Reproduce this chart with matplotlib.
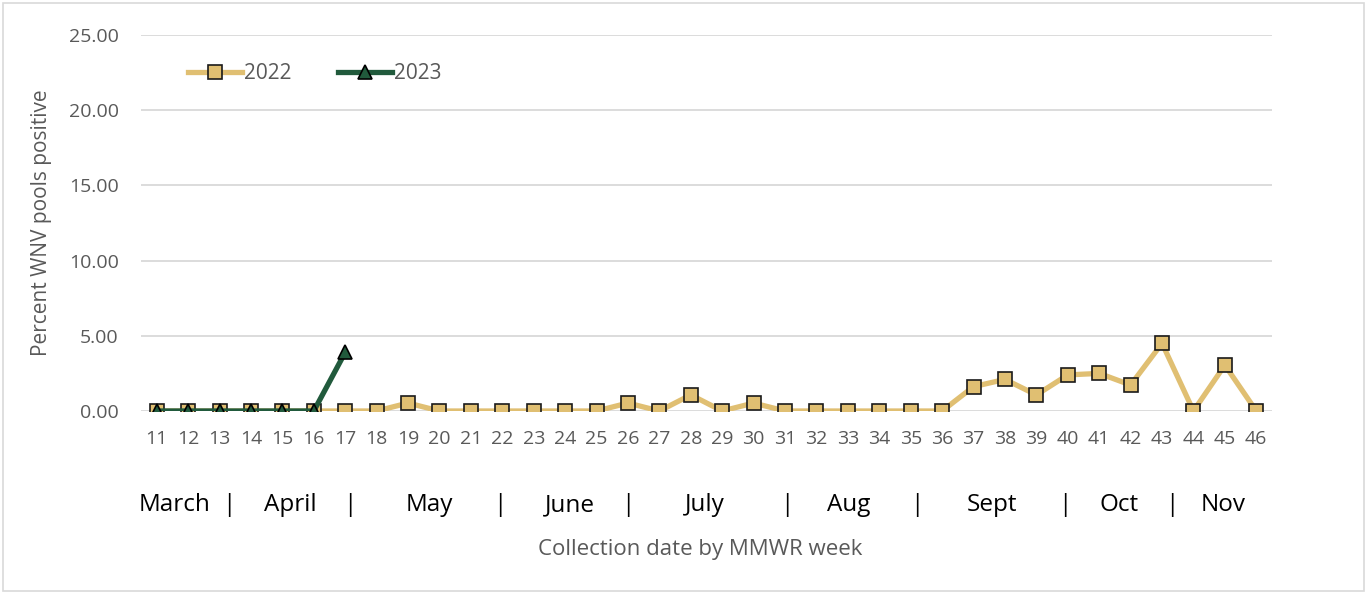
import numpy as np
import matplotlib.pyplot as plt
from matplotlib.patches import Rectangle

weeks = list(range(11, 47))
pct_2022 = [0, 0, 0, 0, 0, 0, 0, 0, 0.53, 0, 0, 0, 0, 0, 0, 0.53, 0, 1.07, 0, 0.53,
            0, 0, 0, 0, 0, 0, 1.62, 2.1, 1.07, 2.4, 2.5, 1.73, 4.5, 0, 3.05, 0]
weeks_2023 = list(range(11, 18))
pct_2023 = [0, 0, 0, 0, 0, 0, 3.9]

months = ["March", "|", "April", "|", "May", "|", "June", "|", "July", "|",
          "Aug", "|", "Sept", "|", "Oct", "|", "Nov"]
month_px = [175, 229, 290, 350, 429, 500, 570, 628, 705, 787,
            849, 917, 992, 1065, 1119, 1172, 1223]

W, H = 1367, 594
fig = plt.figure(figsize=(W / 100, H / 100), dpi=100)
plt.rcParams['font.family'] = ['Open Sans', 'DejaVu Sans']
ax = fig.add_axes([141 / W, 1 - 411 / H, (1272 - 141) / W, (411 - 35) / H])

gray = '#595959'
idx = np.arange(len(weeks))
ax.plot(idx, pct_2022, color='#e0bf72', lw=3.8, marker='s', ms=9.5,
        mfc='#e0bf72', mec='#1a1a1a', mew=1.2, label='2022', zorder=3)
ax.plot(np.arange(len(weeks_2023)), pct_2023, color='#215a3c', lw=3.8, marker='^', ms=10,
        mfc='#215a3c', mec='#000000', mew=1.2, label='2023', zorder=4)

ax.set_xlim(-0.5, len(weeks) - 0.5)
ax.set_ylim(0, 25)
ax.set_yticks(np.arange(0, 26, 5))
ax.set_yticklabels(["%.2f" % v for v in np.arange(0, 26, 5)])
ax.set_xticks(idx)
ax.set_xticklabels([str(w) for w in weeks])
ax.tick_params(axis='both', length=0, colors=gray, labelsize=14)
ax.tick_params(axis='x', pad=14)
ax.tick_params(axis='y', pad=16)
ax.grid(axis='y', color='#d9d9d9', lw=1.3)
ax.set_axisbelow(True)
for s in ax.spines.values():
    s.set_visible(False)

ax.set_ylabel("Percent WNV pools positive", color=gray, fontsize=15, labelpad=12)

leg = ax.legend(loc='upper left', bbox_to_anchor=(0.025, 0.975), ncol=2, frameon=False,
                fontsize=15, labelcolor=gray, handlelength=2.6, columnspacing=2.2,
                handletextpad=0.1)

for lab, px in zip(months, month_px):
    fig.text(px / W, 1 - 505 / H, lab, ha='center', va='center', fontsize=17.5, color='black')
fig.text(0.512, 1 - 550 / H, "Collection date by MMWR week", ha='center', va='center',
         fontsize=16, color=gray)

fig.patches.append(Rectangle((3 / W, 3 / H), (W - 6) / W, (H - 6) / H, transform=fig.transFigure,
                             fill=False, ec='#d9d9d9', lw=1.2))

fig.savefig("out.png", dpi=100)
